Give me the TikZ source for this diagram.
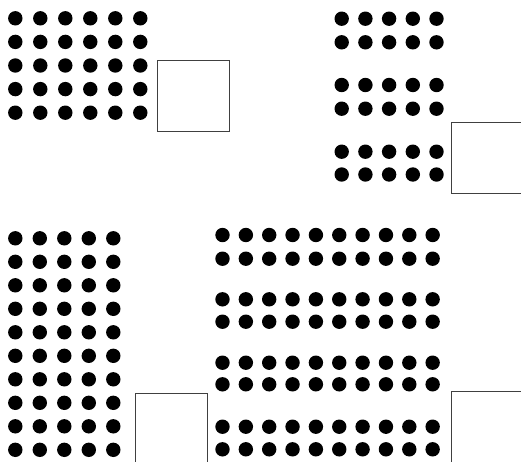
\documentclass[tikz,border=0pt]{standalone}
\begin{document}
\begin{tikzpicture}[x=1pt,y=-1pt,
  dot/.style={fill=black},
  box/.style={draw=black!75,line width=0.9pt}]
\useasboundingbox (0,0) rectangle (521,461);
\clip (0,0) rectangle (521,461);
% top-left group: 6 x 5
\foreach \j in {0,...,4}{
  \foreach \i in {0,...,5}{
    \fill[dot] ({15.3+25*\i},{18.3+23.6*\j}) circle (7.2);
  }
}
\draw[box] (157,60) rectangle (229,131);
% top-right group: 5 x 6 (three pairs)
\foreach \y in {18.7,42.3,85,108.7,151.7,174.5}{
  \foreach \i in {0,...,4}{
    \fill[dot] ({341.7+23.7*\i},\y) circle (7.2);
  }
}
\draw[box] (451,122) rectangle (530,193);
% bottom-left group: 5 x 10
\foreach \j in {0,...,9}{
  \foreach \i in {0,...,4}{
    \fill[dot] ({15.3+24.5*\i},{238.3+23.5*\j}) circle (7.2);
  }
}
\draw[box] (135.5,393) rectangle (207.5,470);
% bottom-right group: 10 x 8 (four pairs)
\foreach \y in {235,258.7,299.3,321.7,362.7,384.3,426.7,449.3}{
  \foreach \i in {0,...,9}{
    \fill[dot] ({222.5+23.35*\i},\y) circle (7.2);
  }
}
\draw[box] (451.5,391) rectangle (530,470);
\end{tikzpicture}
\end{document}
